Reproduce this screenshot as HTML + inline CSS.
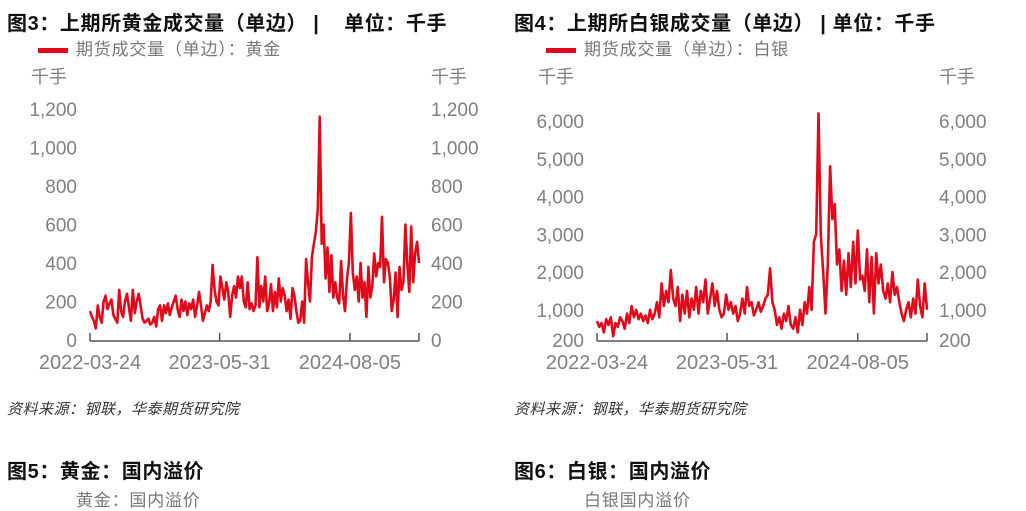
<!DOCTYPE html>
<html><head><meta charset="utf-8">
<style>
body{margin:0;width:1026px;height:494px;overflow:hidden;background:#fff;font-family:"Liberation Sans","Noto Sans CJK SC",sans-serif;position:relative}
.t{position:absolute;white-space:nowrap}
.title{font-size:20px;font-weight:bold;color:#111;letter-spacing:0.6px}
.leg{font-size:17px;color:#777;letter-spacing:0.8px}
.src{font-size:15px;font-style:italic;color:#333;letter-spacing:0.5px}
svg{position:absolute;left:0;top:0}
</style></head><body>
<div class="t title" style="left:7px;top:7px">图3：上期所黄金成交量（单边）&nbsp;|&nbsp;&nbsp;&nbsp;&nbsp;单位：千手</div>
<div class="t title" style="left:514px;top:7px">图4：上期所白银成交量（单边）&nbsp;|&nbsp;单位：千手</div>
<div class="t leg" style="left:38px;top:35px"><span style="display:inline-block;width:30px;height:5px;background:#e00a1a;vertical-align:middle;margin-right:8px"></span>期货成交量（单边）：黄金</div>
<div class="t leg" style="left:546px;top:35px"><span style="display:inline-block;width:30px;height:5px;background:#e00a1a;vertical-align:middle;margin-right:8px"></span>期货成交量（单边）：白银</div>
<div class="t src" style="left:7px;top:398px">资料来源：钢联，华泰期货研究院</div>
<div class="t src" style="left:514px;top:398px">资料来源：钢联，华泰期货研究院</div>
<div class="t title" style="left:7px;top:455px">图5：黄金：国内溢价</div>
<div class="t title" style="left:514px;top:455px">图6：白银：国内溢价</div>
<div class="t leg" style="left:76px;top:486px">黄金：国内溢价</div>
<div class="t leg" style="left:584px;top:486px">白银国内溢价</div>
<svg id="s" width="1026" height="494"></svg>
<script>
const goldValues=[150,120,100,60,180,120,90,200,230,160,190,210,130,110,90,260,150,120,200,240,170,100,260,140,200,240,180,110,90,100,110,80,90,120,70,160,180,100,180,140,190,130,170,200,230,160,120,210,150,200,130,190,160,210,120,180,250,180,100,140,180,150,200,390,260,200,180,330,270,210,300,250,120,230,280,220,330,270,330,200,170,300,160,190,150,180,430,170,280,200,330,150,190,290,150,250,170,320,200,270,230,150,210,110,270,230,150,90,100,200,90,420,300,200,430,500,560,680,1160,500,600,320,480,250,440,220,300,220,190,410,230,150,320,400,660,350,260,330,200,400,220,300,120,380,220,280,450,330,400,380,640,300,420,400,330,150,210,350,120,380,260,300,600,400,250,590,300,450,510,400];
const silverValues=[700,550,650,400,750,600,800,300,650,550,800,700,500,900,650,1100,800,1000,750,900,700,850,650,1000,750,900,1200,800,1700,1100,1500,1200,2050,1300,1100,1600,700,1400,900,1500,800,1300,1000,1600,900,1500,1200,1800,900,1300,1700,1100,1500,1000,800,900,1400,1000,1200,900,1100,700,900,1300,900,1600,1100,1200,850,1000,1200,950,1100,1300,1400,2100,1200,1000,600,800,500,900,700,1100,600,500,800,400,1000,600,1200,900,1600,1000,2800,3000,6200,3000,2000,900,2200,4800,3400,3800,2200,2600,1500,2300,1400,2500,1600,2800,1700,3100,1800,1900,1500,2600,1200,2400,900,2500,1700,2200,1500,1300,1700,1200,2000,1400,1600,1200,900,700,1000,1200,800,1300,900,1800,1100,800,1700,1000];
const goldTicks=[0,200,400,600,800,1000,1200];
const silverTicks=[200,1000,2000,3000,4000,5000,6000];
const dateLabels=["2022-03-24","2023-05-31","2024-08-05"];
const NS="http://www.w3.org/2000/svg",svg=document.getElementById('s');
function el(t,a,p){const e=document.createElementNS(NS,t);for(const k in a)e.setAttribute(k,a[k]);(p||svg).appendChild(e);return e;}
function chart(o){
  const g=el('g',{});
  
  
  const y=v=>o.y0-(v-o.min)/(o.max-o.min)*(o.y0-o.y1);
  const x=i=>o.x0+i/(o.vals.length-1)*(o.x1-o.x0);
  for(const tk of o.ticks){
    const a=el('text',{x:o.x0-13,y:y(tk)+7,'text-anchor':'end','font-size':19,fill:'#808080'},g);a.textContent=tk.toLocaleString('en-US');
    
    const b=el('text',{x:o.x1+12,y:y(tk)+7,'font-size':19,fill:'#808080'},g);b.textContent=tk.toLocaleString('en-US');
    
  }
  const u1=el('text',{x:o.x0-59,y:83,'font-size':18,fill:'#808080'},g);u1.textContent='千手';
  
  const u2=el('text',{x:o.x1+12,y:83,'font-size':18,fill:'#808080'},g);u2.textContent='千手';
  
  const ax=el('line',{x1:o.x0,x2:o.x1,y1:o.y0+1,y2:o.y0+1,stroke:'#555','stroke-width':1.5},g);
  
  const tx=[o.x0,o.x0+(o.x1-o.x0)*0.394,o.x0+(o.x1-o.x0)*0.79,o.x1];
  tx.forEach((t,i)=>{el('line',{x1:t,x2:t,y1:o.y0+1,y2:o.y0-7,stroke:'#555','stroke-width':1.5},g);
    if(i<3){const l=el('text',{x:t,y:o.y0+29,'text-anchor':'middle','font-size':20,fill:'#808080'},g);l.textContent=dateLabels[i];
    }});
  const p=el('polyline',{points:o.vals.map((v,i)=>x(i).toFixed(1)+','+y(v).toFixed(1)).join(' '),fill:'none',stroke:'#e00a1a','stroke-width':2.6,'stroke-linejoin':'round'},g);
  
}
chart({name:'gold-volume-chart',vals:goldValues,ticks:goldTicks,min:0,max:1200,x0:90,x1:419,y0:340,y1:109});
chart({name:'silver-volume-chart',vals:silverValues,ticks:silverTicks,min:200,max:6000,x0:597,x1:927,y0:340,y1:121});
</script>
</body></html>
